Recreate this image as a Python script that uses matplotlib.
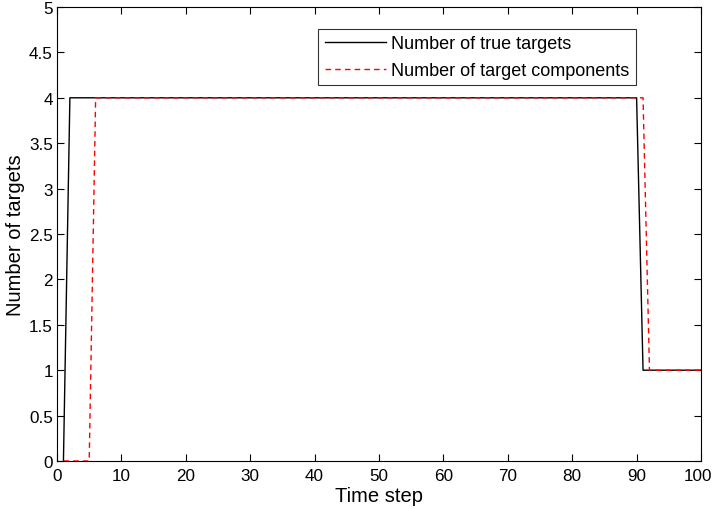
import matplotlib
matplotlib.use("Agg")
import matplotlib.pyplot as plt
import matplotlib.transforms as mtransforms
import numpy as np

plt.rcParams['font.family'] = ['Liberation Sans', 'DejaVu Sans']

time_steps = list(range(1, 101))
true_targets = [0] + [4] * 89 + [1] * 10
target_components = [0] * 5 + [4] * 86 + [1] * 9

fig = plt.figure(figsize=(7.13, 5.10), dpi=100)
ax = fig.add_axes([57/713, 1 - 462/510, (701-57)/713, (462-8)/510])

ax.plot(time_steps, true_targets, color='black', lw=1.0, label='Number of true targets')
ax.plot(time_steps, target_components, color='red', lw=1.0, linestyle=(0, (4, 3)),
        label='Number of target components')

ax.set_xlim(0, 100)
ax.set_ylim(0, 5)
ax.set_xticks(np.arange(0, 101, 10))
ax.set_yticks(np.arange(0, 5.01, 0.5))
ax.set_yticklabels(['0', '0.5', '1', '1.5', '2', '2.5', '3', '3.5', '4', '4.5', '5'])
ax.tick_params(direction='in', top=True, right=True, labelsize=12.3, length=5, width=0.8, pad=3)
ax.tick_params(axis='x', pad=5)
for s in ax.spines.values():
    s.set_linewidth(0.8)
ax.set_xlabel('Time step', fontsize=14.5, labelpad=2)
ax.set_ylabel('Number of targets', fontsize=14.5, labelpad=3)

# shift the last x tick label slightly left so it stays inside the figure
last = ax.get_xticklabels()[-1]
last.set_transform(last.get_transform() + mtransforms.ScaledTranslation(-3/100, 0, fig.dpi_scale_trans))

leg = ax.legend(loc='upper right', bbox_to_anchor=(0.899, 0.952), fontsize=13,
                frameon=True, fancybox=False, edgecolor='black', handlelength=3.4,
                borderpad=0.35, labelspacing=0.55, handletextpad=0.3, borderaxespad=0)
leg.get_frame().set_linewidth(0.8)

fig.savefig('out.png', dpi=100)
